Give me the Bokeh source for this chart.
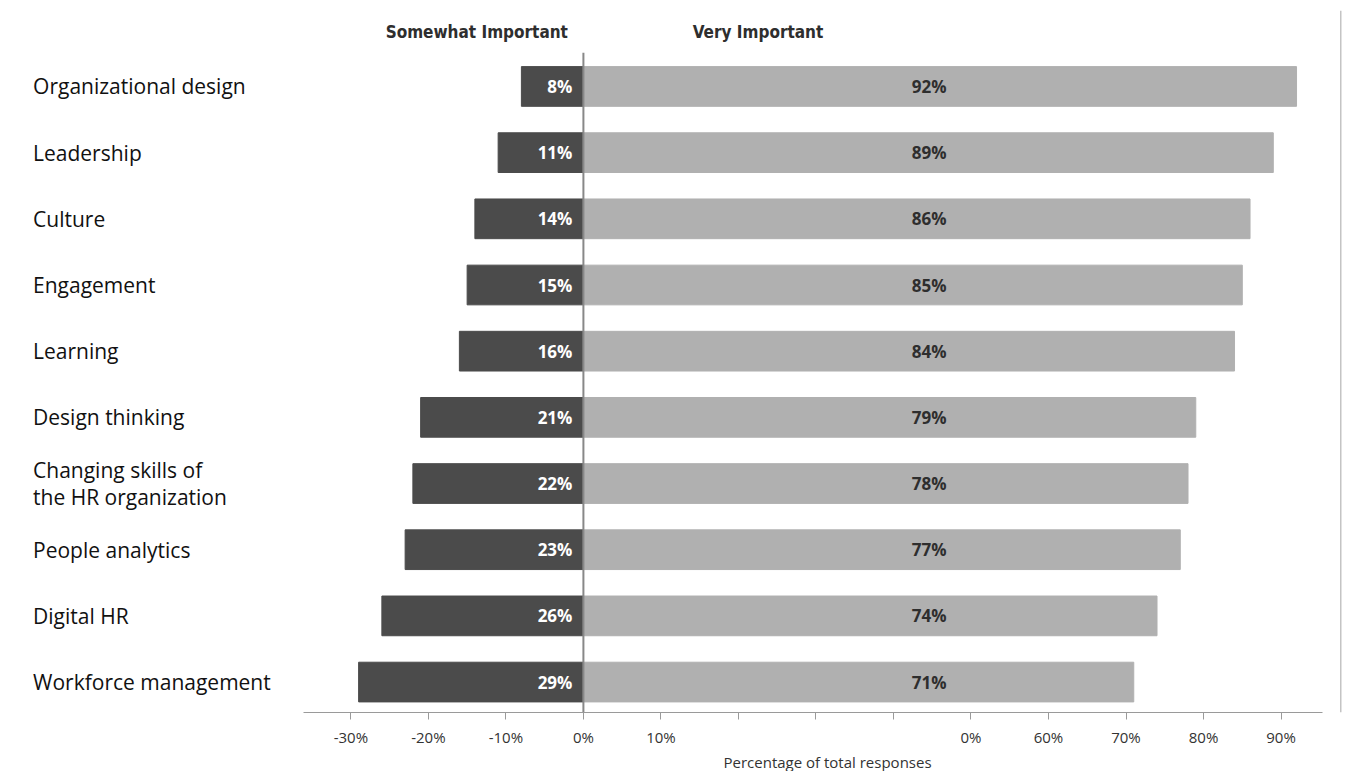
from bokeh.plotting import figure
from bokeh.models import ColumnDataSource, Range1d, FixedTicker, Title
from bokeh.core.properties import value
from bokeh.embed import file_html
from bokeh.resources import INLINE

categories = ["Organizational design", "Leadership", "Culture", "Engagement", "Learning",
              "Design thinking", "Changing skills of\nthe HR organization", "People analytics",
              "Digital HR", "Workforce management"]
somewhat = [8, 11, 14, 15, 16, 21, 22, 23, 26, 29]
very = [92, 89, 86, 85, 84, 79, 78, 77, 74, 71]
tick_values = [-30, -20, -10, 0, 10, 20, 30, 40, 50, 60, 70, 80, 90]
tick_labels = ["-30%", "-20%", "-10%", "0%", "10%", "", "", "", "0%", "60%", "70%", "80%", "90%"]
headers = ["Somewhat Important", "Very Important"]
x_title = "Percentage of total responses"

FONT = "Open Sans"
HFONT = "DejaVu Sans Condensed, Roboto, sans-serif"
DARK = "#4b4b4b"
LIGHT = "#b0b0b0"

X_MIN, X_MAX = -75.2, 97.8        # frame (includes label area on the left and panel edge)
AX_MIN, AX_MAX = -36.13, 95.35    # extent of the drawn axis line
Y_TOP, Y_BOT = -1.148, 9.46
LINE_TOP = -0.51

idx = list(range(len(categories)))
src = ColumnDataSource(dict(
    y=idx,
    cat=categories,
    neg=[-v for v in somewhat],
    pos=very,
    zero=[0] * len(idx),
    mid=[44.6] * len(idx),
    labx=[-71] * len(idx),
    slab=[f"{v}%" for v in somewhat],
    vlab=[f"{v}%" for v in very],
))

p = figure(frame_width=1341, frame_height=702, output_backend="svg", toolbar_location=None,
           x_range=Range1d(X_MIN, X_MAX), y_range=Range1d(Y_BOT, Y_TOP),
           y_axis_location=None,
           min_border_left=0, min_border_right=3, min_border_top=10, min_border_bottom=0)
p.outline_line_color = None
p.grid.visible = False
p.background_fill_color = "white"
p.border_fill_color = "white"

p.hbar(y="y", left="neg", right="zero", height=0.6, color=DARK, source=src)
p.hbar(y="y", left="zero", right="pos", height=0.6, color=LIGHT, source=src)

p.segment(x0=[0], y0=[LINE_TOP], x1=[0], y1=[Y_BOT], line_color="#888888", line_width=2)
# panel edge on the right
p.segment(x0=[X_MAX], y0=[Y_TOP], x1=[X_MAX], y1=[Y_BOT], line_color="#c4c4c4", line_width=3)

p.text(x="zero", y="y", text="slab", source=src, x_offset=-11, text_align="right",
       text_baseline="middle", text_color="white", text_font=value(FONT),
       text_font_style="bold", text_font_size="17px")
p.text(x="mid", y="y", text="vlab", source=src, text_align="center",
       text_baseline="middle", text_color="#2e2e2e", text_font=value(FONT),
       text_font_style="bold", text_font_size="17px")

p.text(x="labx", y="y", text="cat", source=src, text_align="left",
       text_baseline="middle", text_color="#111111", text_font=value(FONT),
       text_font_size="21px", text_line_height=0.98)

p.text(x=[-2.0, 14.1], y=[-0.83, -0.83], text=headers, text_align=["right", "left"],
       text_baseline="middle", text_color="#2e2e2e", text_font=value(HFONT),
       text_font_style="bold", text_font_size="17px")

ax = p.xaxis[0]
ax.bounds = (AX_MIN, AX_MAX)
ax.ticker = FixedTicker(ticks=tick_values)
ax.major_label_overrides = {v: l for v, l in zip(tick_values, tick_labels)}
ax.major_label_text_font = FONT
ax.major_label_text_font_size = "15px"
ax.major_label_text_color = "#333333"
ax.major_label_standoff = 7
ax.axis_line_color = "#9a9a9a"
ax.major_tick_line_color = "#9a9a9a"
ax.major_tick_out = 7
ax.major_tick_in = 0
ax.minor_tick_line_color = None

p.add_layout(Title(text=x_title, align="left", offset=723, text_font=FONT,
                   text_font_style="normal", text_font_size="15px", text_color="#333333",
                   standoff=0), "below")

open("out.html", "w").write(file_html(p, INLINE))
